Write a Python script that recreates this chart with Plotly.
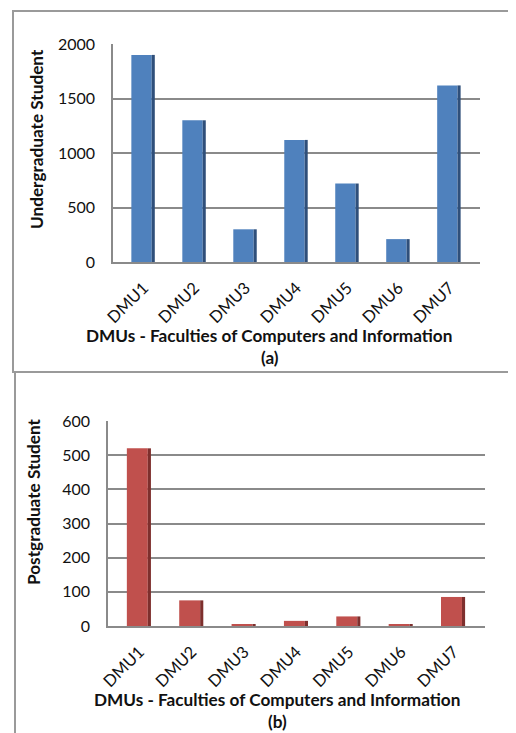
import plotly.graph_objects as go

categories = ["DMU1", "DMU2", "DMU3", "DMU4", "DMU5", "DMU6", "DMU7"]
undergraduate = [1900, 1300, 300, 1120, 720, 210, 1620]
postgraduate = [520, 75, 3, 15, 28, 3, 85]
y_ticks_a = [0, 500, 1000, 1500, 2000]
y_ticks_b = [0, 100, 200, 300, 400, 500, 600]

# page has an 8px body margin; the figure starts at (8, 8) and runs to the window's bottom
OFF = 8
W, H = 516 - 2 * OFF, 733 - OFF
def px(x): return (x - OFF) / W
def py(y): return 1 - (y - OFF) / H

FONT = "Lato"
GRID = "#8a8a8a"

fig = go.Figure()

fig.add_trace(go.Bar(x=categories, y=undergraduate, width=0.40, offset=-0.24,
                     marker=dict(color="#4F81BD", line=dict(width=0)),
                     xaxis="x", yaxis="y", showlegend=False))
fig.add_trace(go.Bar(x=categories, y=undergraduate, width=0.06, offset=0.16,
                     marker=dict(color="#2F4F7A", line=dict(width=0)),
                     xaxis="x", yaxis="y", showlegend=False))
fig.add_trace(go.Bar(x=categories, y=postgraduate, width=0.40, offset=-0.24,
                     marker=dict(color="#C0504D", line=dict(width=0)),
                     xaxis="x2", yaxis="y2", showlegend=False))
fig.add_trace(go.Bar(x=categories, y=postgraduate, width=0.06, offset=0.16,
                     marker=dict(color="#7E2F2D", line=dict(width=0)),
                     xaxis="x2", yaxis="y2", showlegend=False))

def axis_common(size):
    return dict(showline=True, linecolor=GRID, linewidth=1.5, automargin=False,
                tickfont=dict(family=FONT, size=size, color="#111"))

fig.update_layout(
    template="none",
    width=W, height=H, autosize=False,
    margin=dict(l=0, r=0, t=0, b=0, pad=0),
    paper_bgcolor="white", plot_bgcolor="white",
    barmode="overlay",
    xaxis=dict(domain=[px(113), px(480)], anchor="y", range=[-0.6, 6.6],
               tickangle=-45, showgrid=False, ticks="", ticklabelstandoff=8,
               **axis_common(16.5)),
    yaxis=dict(domain=[py(262), py(44)], anchor="x", range=[0, 2000],
               tickvals=y_ticks_a, showgrid=True, gridcolor=GRID, gridwidth=1.5,
               zeroline=False, ticks="", ticklabelstandoff=13, **axis_common(16)),
    xaxis2=dict(domain=[px(108), px(485)], anchor="y2", range=[-0.6, 6.6],
                tickangle=-45, showgrid=False, ticks="", ticklabelstandoff=8,
                **axis_common(16.5)),
    yaxis2=dict(domain=[py(626), py(421)], anchor="x2", range=[0, 600],
                tickvals=y_ticks_b, showgrid=True, gridcolor=GRID, gridwidth=1.5,
                zeroline=False, ticks="", ticklabelstandoff=13, **axis_common(16)),
)

title_font = dict(family=FONT, size=17.2, color="#111", weight="bold")
annos = [
    dict(text="DMUs - Faculties of Computers and Information", x=px(269), y=py(335)),
    dict(text="(a)", x=px(270), y=py(357)),
    dict(text="DMUs - Faculties of Computers and Information", x=px(277), y=py(699)),
    dict(text="(b)", x=px(277), y=py(721)),
    dict(text="Undergraduate Student", x=px(37), y=py(139), textangle=-90),
    dict(text="Postgraduate Student", x=px(33), y=py(502), textangle=-90),
]
for a in annos:
    fig.add_annotation(xref="paper", yref="paper", showarrow=False,
                       xanchor="center", yanchor="middle", font=title_font, **a)

frame = dict(color="#9a9a9a", width=2)
fig.add_shape(type="rect", xref="paper", yref="paper",
              x0=px(13), x1=px(540), y0=py(372), y1=py(11), line=frame)
fig.add_shape(type="line", xref="paper", yref="paper",
              x0=px(15), x1=px(15), y0=py(372), y1=py(760), line=frame)

fig.write_html("out.html")
